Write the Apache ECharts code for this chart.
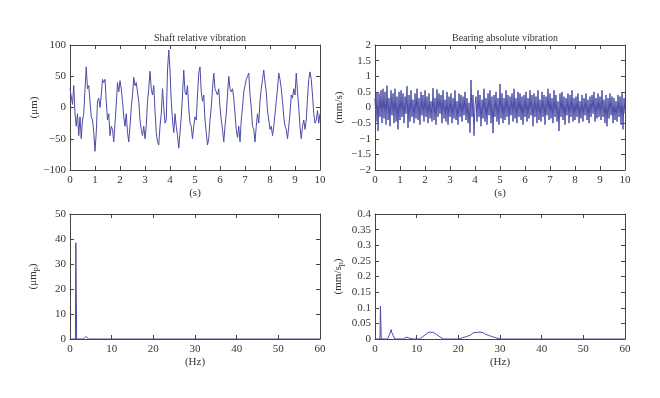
<!DOCTYPE html>
<html>
<head>
<meta charset="utf-8">
<script src="https://cdn.jsdelivr.net/npm/echarts@6/dist/echarts.min.js"></script>
<style>
  html, body { margin: 0; padding: 0; background: #fff; }
  #chart { width: 660px; height: 398px; }
</style>
</head>
<body>
<div id="chart"></div>
<script>
// shaft relative vibration, sampled every 0.05 s (µm)
const shaftDt = 0.05
const shaftValues = [
  30, 33, 5, 35, -10, -30, -10, -45, -15, -50, -20, -10, 30, 65, 30, 35, 10, -15, -20, -40,
  -70, -40, 10, 15, 0, 20, 45, 40, 45, 10, -20, -10, -45, -30, -35, -55, -25, 5, 40, 25,
  43, 30, 10, -15, -30, -10, -40, -55, -30, 0, 20, 48, 35, 40, 25, 10, -20, -35, -45, -30,
  -50, -30, 10, 30, 58, 30, 20, 35, -5, -40, -55, -60, -30, -10, 30, 0, -25, -20, 60, 92,
  60, 10, -20, -40, -10, -30, -45, -65, -40, -15, 20, 60, 25, 20, 35, 0, -25, -30, -50, -30,
  -15, -20, 20, 55, 65, 25, 10, 20, -20, -40, -60, -50, -20, 0, 30, 55, 30, 25, 20, 30,
  0, -20, -35, -55, -30, -10, 20, 50, 30, 25, 30, 15, -10, -35, -48, -30, -55, -20, 0, 25,
  35, 45, 50, 55, 20, 0, -30, -35, -55, -30, -10, -25, 10, 30, 45, 60, 40, 25, -5, -20,
  -35, -30, -45, -30, -10, 10, 30, 55, 45, 30, 10, -15, -30, -35, -50, -30, -10, 20, 15, 30,
  20, 55, 25, 0, -30, -50, -30, -20, -35, -20, 15, 45, 57, 45, 20, -10, -25, -20, -5, -25,
  -10
]

// bearing absolute vibration, sampled every 0.04 s (mm/s)
const bearingDt = 0.04
const bearingValues = [
  0.3, -0.45, 0.5, -0.75, 0.45, -0.3, 0.55, -0.5, 0.6, -0.35, 0.5, -0.55, 0.7, -0.4, 0.3, -0.6, 0.55, -0.25, 0.45, -0.5, 0.6, -0.45, 0.35, -0.7, 0.5,
  -0.4, 0.55, -0.3, 0.45, -0.5, 0.35, -0.2, 0.68, -0.65, 0.4, -0.45, 0.55, -0.3, 0.25, -0.5, 0.45, -0.35, 0.6, -0.4, 0.3, -0.55, 0.5, -0.25, 0.4, -0.45,
  0.55, -0.3, 0.35, -0.5, 0.45, -0.35, 0.2, -0.45, 0.62, -0.4, 0.3, -0.55, 0.58, -0.3, 0.45, -0.2, 0.4, -0.5, 0.55, -0.35, 0.25, -0.45, 0.5, -0.55, 0.35,
  -0.3, 0.45, -0.5, 0.3, -0.35, 0.55, -0.4, 0.2, -0.55, 0.45, -0.3, 0.4, -0.45, 0.35, -0.25, 0.5, -0.4, 0.3, -0.5, 0.15, -0.8, 0.88, -0.3, 0.4, -0.9,
  0.1, 0.35, -0.45, 0.55, -0.3, 0.4, -0.6, 0.25, -0.35, 0.6, -0.45, 0.3, -0.55, 0.45, -0.25, 0.55, -0.5, 0.35, -0.82, 0.4, -0.3, 0.5, -0.45, 0.3, -0.55,
  0.75, -0.35, 0.45, -0.5, 0.3, -0.4, 0.55, -0.3, 0.4, -0.55, 0.35, -0.25, 0.45, -0.45, 0.6, -0.35, 0.3, -0.5, 0.5, -0.3, 0.45, -0.4, 0.35, -0.55, 0.4,
  -0.3, 0.5, -0.45, 0.3, -0.35, 0.55, -0.25, 0.4, -0.6, 0.45, -0.3, 0.35, -0.5, 0.55, -0.4, 0.25, -0.45, 0.5, -0.3, 0.4, -0.55, 0.35, -0.25, 0.6, -0.4,
  0.45, -0.35, 0.3, -0.5, 0.55, -0.3, 0.4, -0.45, 0.2, -0.75, 0.45, -0.3, 0.5, -0.4, 0.35, -0.55, 0.3, -0.25, 0.45, -0.5, 0.4, -0.3, 0.55, -0.45, 0.3,
  -0.4, 0.35, -0.3, 0.45, -0.5, 0.2, -0.35, 0.4, -0.45, 0.3, -0.25, 0.45, -0.4, 0.25, -0.5, 0.35, -0.3, 0.4, -0.2, 0.5, -0.45, 0.3, -0.35, 0.45, -0.3,
  0.35, -0.4, 0.55, -0.3, 0.25, -0.5, 0.4, -0.6, 0.3, -0.35, 0.45, -0.25, 0.35, -0.5, 0.3, -0.4, 0.2, -0.45, 0.4, -0.3, 0.35, -0.55, 0.45, -0.7, 0.3,
  -0.2
]

// spectra
const shaftSpecHz = [0, 1.3, 1.4, 1.6, 3.2, 3.5, 3.8, 4.0, 4.2, 4.5, 60]
const shaftSpecAmp = [0, 0, 38.5, 0, 0, 0.5, 1.0, 1.1, 0.6, 0, 0]

const bearingSpecHz = [0, 1.2, 1.3, 1.5, 3.0, 3.4, 3.7, 3.9, 4.0, 4.1, 4.4, 4.8, 6.8, 7.0, 7.2, 7.5, 7.7, 8.0, 8.3, 9.0,
  10.8, 11.5, 12.3, 13.0, 13.4, 14.0, 14.8, 15.6, 16.4, 20.2, 21.0, 22.0, 23.0, 23.6, 24.0, 24.4, 24.8, 25.2, 25.6, 26.0,
  26.5, 27.2, 28.0, 29.0, 30.0, 60]
const bearingSpecAmp = [0, 0, 0.105, 0, 0, 0.012, 0.018, 0.03, 0.022, 0.025, 0.01, 0, 0, 0.005, 0.002, 0.006, 0.002, 0.004, 0, 0,
  0, 0.008, 0.016, 0.022, 0.025, 0.021, 0.014, 0.007, 0, 0, 0.004, 0.008, 0.013, 0.02, 0.015, 0.021, 0.016, 0.022, 0.017, 0.02,
  0.015, 0.012, 0.008, 0.004, 0, 0]

const titles = ['Shaft relative vibration', 'Bearing absolute vibration']

const lineColor = '#4b4ba6'
const textColor = '#3b3232'
const frameColor = '#4a4240'
const font = 'Liberation Serif'

const fmt = v => String(v).replace('-', '\u2212')

const grids = [
  { left: 70, top: 45, width: 250, height: 125 },
  { left: 375, top: 45, width: 250, height: 125 },
  { left: 70, top: 214, width: 250, height: 125 },
  { left: 375, top: 214, width: 250, height: 125 }
]

const xRanges = [[0, 10, 1, '(s)'], [0, 10, 1, '(s)'], [0, 60, 10, '(Hz)'], [0, 60, 10, '(Hz)']]
const yRanges = [
  [-100, 100, 50, '(\u03bcm)'],
  [-2, 2, 0.5, '(mm/s)'],
  [0, 50, 10, '{a|(\u03bcm}{s|p}{a|)}'],
  [0, 0.4, 0.05, '{a|(mm/s}{s|p}{a|)}']
]

const tick = { show: true, inside: true, length: 4, lineStyle: { color: frameColor } }
const line = { show: true, onZero: false, lineStyle: { color: frameColor, width: 1 } }
const labelStyle = { color: textColor, fontFamily: font, fontSize: 11 }

const xAxis = []
const yAxis = []
grids.forEach((g, i) => {
  const [xmin, xmax, xint, xname] = xRanges[i]
  const [ymin, ymax, yint, yname] = yRanges[i]
  xAxis.push({
    type: 'value', gridIndex: i, min: xmin, max: xmax, interval: xint,
    name: xname, nameLocation: 'middle', nameGap: 18,
    nameTextStyle: { color: textColor, fontFamily: font, fontSize: 11 },
    axisLine: line, axisTick: tick, splitLine: { show: false },
    axisLabel: { ...labelStyle, margin: 5, formatter: fmt }
  })
  xAxis.push({
    type: 'value', gridIndex: i, position: 'top', min: xmin, max: xmax, interval: xint,
    axisLine: line, axisTick: tick, splitLine: { show: false }, axisLabel: { show: false }
  })
  yAxis.push({
    type: 'value', gridIndex: i, min: ymin, max: ymax, interval: yint,
    name: yname, nameLocation: 'middle', nameGap: 30, nameRotate: 90,
    nameTextStyle: {
      color: textColor, fontFamily: font, fontSize: 11,
      rich: {
        a: { color: textColor, fontFamily: font, fontSize: 11 },
        s: { color: textColor, fontFamily: font, fontSize: 8, padding: [6, 0, 0, 0] }
      }
    },
    axisLine: line, axisTick: tick, splitLine: { show: false },
    axisLabel: { ...labelStyle, margin: 4, formatter: fmt }
  })
  yAxis.push({
    type: 'value', gridIndex: i, position: 'right', min: ymin, max: ymax, interval: yint,
    axisLine: line, axisTick: tick, splitLine: { show: false }, axisLabel: { show: false }
  })
})

const pairs = (xs, ys) => ys.map((y, k) => [xs[k], y])
const timed = (dt, ys) => ys.map((y, k) => [+(k * dt).toFixed(3), y])

const seriesData = [
  timed(shaftDt, shaftValues),
  timed(bearingDt, bearingValues),
  pairs(shaftSpecHz, shaftSpecAmp),
  pairs(bearingSpecHz, bearingSpecAmp)
]

const chart = echarts.init(document.getElementById('chart'), null, { renderer: 'canvas' })
chart.setOption({
  animation: false,
  backgroundColor: '#fff',
  title: titles.map((t, i) => ({
    text: t, left: i ? 500 : 195, top: 28, textAlign: 'center',
    textStyle: { color: textColor, fontFamily: font, fontSize: 10, fontWeight: 'normal' }
  })),
  grid: grids,
  xAxis: xAxis,
  yAxis: yAxis,
  series: seriesData.map((d, i) => ({
    type: 'line',
    xAxisIndex: i * 2,
    yAxisIndex: i * 2,
    data: d,
    showSymbol: false,
    lineStyle: { color: lineColor, width: 1 },
    itemStyle: { color: lineColor }
  }))
})
</script>
</body>
</html>
